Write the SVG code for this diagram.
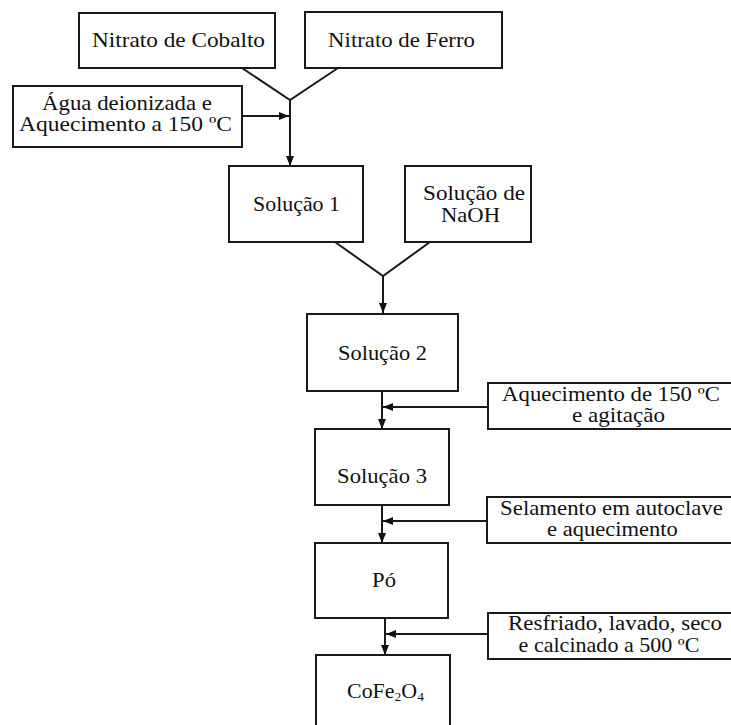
<svg xmlns="http://www.w3.org/2000/svg" width="731" height="725" viewBox="0 0 731 725">
  <defs>
    <marker id="arrow" markerUnits="userSpaceOnUse" markerWidth="10" markerHeight="8" refX="10" refY="4" orient="auto">
      <path d="M0,0 L10,4 L0,8 Z" fill="#111"/>
    </marker>
    <style>
      .box { fill: #fff; stroke: #1a1a1a; stroke-width: 2; }
      .lbl { font-family: "Liberation Serif", "Times New Roman", serif; font-size: 21px; fill: #111; text-anchor: middle; }
      .sm { font-size: 20px; }
      .wire { fill: none; stroke: #1a1a1a; stroke-width: 2; }
      .feed { fill: none; stroke: #1a1a1a; stroke-width: 1.8; }
    </style>
  </defs>
  <rect width="731" height="725" fill="#fff"/>

  <g id="connectors">
    <polyline class="wire" points="242,68 290,100 338,68"/>
    <line class="wire" x1="290" y1="100" x2="290" y2="166" marker-end="url(#arrow)"/>
    <line class="feed" x1="242" y1="116" x2="289" y2="116" marker-end="url(#arrow)"/>

    <polyline class="wire" points="335,242 383,276 430,242"/>
    <line class="wire" x1="383" y1="276" x2="383" y2="313" marker-end="url(#arrow)"/>

    <line class="wire" x1="382" y1="391" x2="382" y2="429" marker-end="url(#arrow)"/>
    <line class="feed" x1="488" y1="407" x2="383" y2="407" marker-end="url(#arrow)"/>

    <line class="wire" x1="382" y1="505" x2="382" y2="543" marker-end="url(#arrow)"/>
    <line class="feed" x1="487" y1="521" x2="383" y2="521" marker-end="url(#arrow)"/>

    <line class="wire" x1="385" y1="618" x2="385" y2="655" marker-end="url(#arrow)"/>
    <line class="feed" x1="488" y1="634" x2="386" y2="634" marker-end="url(#arrow)"/>
  </g>

  <g id="nitrato-cobalto">
    <rect class="box" x="79" y="13" width="196" height="55"/>
    <text class="lbl" transform="translate(178.5 47) scale(1.107 1)">Nitrato de Cobalto</text>
  </g>
  <g id="nitrato-ferro">
    <rect class="box" x="305" y="12" width="197" height="56"/>
    <text class="lbl" transform="translate(401.5 47) scale(1.086 1)">Nitrato de Ferro</text>
  </g>
  <g id="agua">
    <rect class="box" x="13" y="86" width="229" height="61"/>
    <text class="lbl" transform="translate(127 109.5) scale(1.088 1)">Água deionizada e</text>
    <text class="lbl" transform="translate(125.5 131) scale(1.12 1)">Aquecimento a 150 ºC</text>
  </g>
  <g id="solucao1">
    <rect class="box" x="229" y="166" width="134" height="76"/>
    <text class="lbl" transform="translate(296.5 211) scale(1.043 1)">Solução 1</text>
  </g>
  <g id="naoh">
    <rect class="box" x="405" y="166" width="126" height="76"/>
    <text class="lbl" transform="translate(474 200) scale(1.1 1)">Solução de</text>
    <text class="lbl" transform="translate(470.5 222) scale(1.077 1)">NaOH</text>
  </g>
  <g id="solucao2">
    <rect class="box" x="307" y="314" width="151" height="77"/>
    <text class="lbl" transform="translate(382.5 360) scale(1.067 1)">Solução 2</text>
  </g>
  <g id="aquecimento">
    <rect class="box" x="488" y="383" width="250" height="46"/>
    <text class="lbl sm" transform="translate(611 400.5) scale(1.14 1)">Aquecimento de 150 ºC</text>
    <text class="lbl sm" transform="translate(618.5 421.5) scale(1.155 1)">e agitação</text>
  </g>
  <g id="solucao3">
    <rect class="box" x="315" y="429" width="134" height="76"/>
    <text class="lbl" transform="translate(382 483) scale(1.079 1)">Solução 3</text>
  </g>
  <g id="selamento">
    <rect class="box" x="487" y="497" width="251" height="46"/>
    <text class="lbl sm" transform="translate(611.5 515) scale(1.14 1)">Selamento em autoclave</text>
    <text class="lbl sm" transform="translate(612.5 536) scale(1.128 1)">e aquecimento</text>
  </g>
  <g id="po">
    <rect class="box" x="315" y="543" width="133" height="75"/>
    <text class="lbl" transform="translate(384 587) scale(1.08 1)">Pó</text>
  </g>
  <g id="resfriado">
    <rect class="box" x="488" y="613" width="250" height="46"/>
    <text class="lbl sm" transform="translate(615 630) scale(1.147 1)">Resfriado, lavado, seco</text>
    <text class="lbl sm" transform="translate(609 652) scale(1.104 1)">e calcinado a 500 ºC</text>
  </g>
  <g id="cofe2o4">
    <rect class="box" x="316" y="655" width="134" height="80"/>
    <text class="lbl" transform="translate(385.5 698) scale(1.045 1)">CoFe<tspan font-size="13" dy="3">2</tspan><tspan dy="-3">O</tspan><tspan font-size="13" dy="3">4</tspan></text>
  </g>
</svg>
